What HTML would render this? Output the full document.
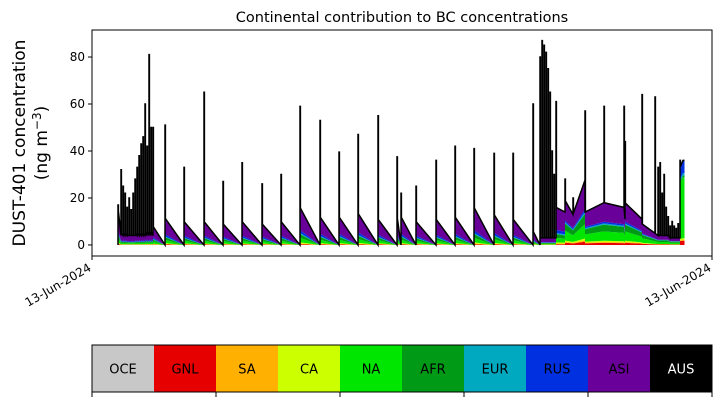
<!DOCTYPE html>
<html><head><meta charset="utf-8"><style>
html,body{margin:0;padding:0;background:#fff;}
svg{display:block;font-family:"DejaVu Sans","Liberation Sans",sans-serif;}
</style></head><body>
<svg id="chart" width="721" height="402" viewBox="0 0 721 402">
<g id="plot"></g>
</svg>
<script>
// ---- data ----
const layerNames = ["OCE","GNL","SA","CA","NA","AFR","EUR","RUS","ASI","AUS"];
const layerColors = ["#c8c8c8","#e60000","#ffb000","#ccff00","#00e600","#009a16","#00a8c0","#0030e0","#6a009a","#000000"];
// composition fractions of the non-AUS stack (OCE..ASI)
const compEarly = [0,0.02,0.02,0.03,0.12,0.10,0.03,0.08,0.60];
const compLate  = [0,0.05,0.02,0.03,0.22,0.16,0.03,0.04,0.45];
const compEnd   = [0,0.05,0.01,0.02,0.72,0.02,0.03,0.15,0.00];
const comps = [compEarly, compLate, compEnd];
// tooth start times (time units), spike tops, stack top at start, stack at end, composition idx
const toothTime  = [26,29,31,33,35,37,39,41,43,45,47,49,51,53,55,57,59,61,73,92,112,131,150,170,189,208,228,247,266,286,305,309,324,344,363,382,402,421,441,448,450,452,454,456,458,460,462,464,473,481,493,512,532,533,550,563,566,568,570,572,574,576,578,580,582,584,586,588,591];
const spikeTop   = [17,32,25,22,16,20,15,22,28,33,38,43,46,60,42,81,50,50,51,33,65,27,35,26,30,59,53,39.5,47,55,37.5,22,25,36,42,41,39,39,60,80,87,85,82,75,65,40,30,61,28,20,57,59,59,44,64,63,33,35,22,30,16,12,8,10,8,7,9,36,36];
const stackTop   = [16,5,5,5,4,4,4,4,5,5,5,5,5,6,6,6,6,8,11.5,10,10,9,10,9,10,16,12,12,13.5,11,12.5,12,10,11,12,16,13,11,6,3,3,3,3,3,3,3,3,16,19,13,14,18,16,18,9,5,4,4,4,4,4,4,3,3,3,3,3,33,36];
const stackEnd   = [4,4,4,4,4,4,4,4,4,4,4,4,4,4,4,4,4,0,0,0,0,0,0,0,0,0,0,0,0,0,0,0,0,0,0,0,0,0,0,3,3,3,3,3,3,3,3,14,13,27.6,18,16,11,11,5,4,4,4,4,4,4,3,3,3,3,3,3,36,36];
const toothComp  = [0,0,0,0,0,0,0,0,0,0,0,0,0,0,0,0,0,0,0,0,0,0,0,0,0,0,0,0,0,0,0,0,0,0,0,0,0,0,0,0,0,0,0,0,0,0,0,0,1,1,1,1,1,1,1,1,1,1,1,1,1,1,1,1,1,1,1,2,2];
const yTicks = [0,20,40,60,80];
const cbTicks = [0,2,4,6,8,10];
// ---- axes ----
const X0=92,X1=712,Y0=30,Y1=256;
const tMin=0,tMax=620;
const yMin=-4.7,yMax=91.5;
const xs=t=>X0+(t-tMin)/(tMax-tMin)*(X1-X0);
const ys=v=>Y1-(v-yMin)/(yMax-yMin)*(Y1-Y0);
const NS="http://www.w3.org/2000/svg";
const svg=document.getElementById('chart');
const plot=document.getElementById('plot');
function mk(tag,attrs,parent){const e=document.createElementNS(NS,tag);for(const k in attrs)e.setAttribute(k,attrs[k]);(parent||svg).appendChild(e);return e;}
const pts=[];
function layersFor(total,ci,aus){const c=comps[ci];const arr=c.map(f=>f*total);arr.push(aus);return arr;}
const W=0.4;
for(let i=0;i<toothTime.length;i++){
  const s=toothTime[i];
  const n=i+1<toothTime.length?toothTime[i+1]:s+1.5;
  const ci=toothComp[i];
  const top=stackTop[i], end=stackEnd[i];
  const frac=Math.min(W/(n-s),1);
  const topW=top+(end-top)*frac;
  const prevEnd=i>0?stackEnd[i-1]:0;
  const prevCi=i>0?toothComp[i-1]:ci;
  pts.push({t:s,v:layersFor(prevEnd,prevCi,0)});
  pts.push({t:s,v:layersFor(top,ci,Math.max(spikeTop[i]-top,0))});
  pts.push({t:s+Math.min(W,n-s),v:layersFor(topW,ci,Math.max(spikeTop[i]-topW,0))});
  pts.push({t:s+Math.min(W,n-s),v:layersFor(topW,ci,0)});
  pts.push({t:n,v:layersFor(end,ci,0)});
}
const clip=mk('clipPath',{id:'pc'});mk('rect',{x:X0,y:Y0,width:X1-X0,height:Y1-Y0},clip);
const areaG=mk('g',{'clip-path':'url(#pc)'},plot);


const cum=pts.map(p=>{let c=[0];for(let k=0;k<10;k++)c.push(c[k]+p.v[k]);return c;});
for(let k=0;k<10;k++){
  let d='';
  pts.forEach((p,j)=>{d+=(j?'L':'M')+xs(p.t).toFixed(2)+','+ys(cum[j][k+1]).toFixed(2);});
  for(let j=pts.length-1;j>=0;j--)d+='L'+xs(pts[j].t).toFixed(2)+','+ys(cum[j][k]).toFixed(2);
  d+='Z';
  const a=mk('path',{d:d,fill:layerColors[k],stroke:k==9?'#000':'none','stroke-width':k==9?1.5:0,'stroke-linejoin':'miter'},areaG);
  
  
}
const fr=mk('rect',{x:X0,y:Y0,width:X1-X0,height:Y1-Y0,fill:'none',stroke:'#000','stroke-width':1});

yTicks.forEach(v=>{
  const y=ys(v);
  const tk=mk('line',{x1:X0-4,x2:X0,y1:y,y2:y,stroke:'#000'});
  
  const tx=mk('text',{x:X0-7,y:y+4,'text-anchor':'end','font-size':12,fill:'#000'});tx.textContent=v;
  
});
[[X0],[X1]].forEach(([x])=>{
  const tk=mk('line',{x1:x,x2:x,y1:Y1,y2:Y1+4,stroke:'#000'});
  
  const tx=mk('text',{x:x,y:Y1+14,'text-anchor':'end','font-size':12,transform:`rotate(-30 ${x} ${Y1+14})`});tx.textContent='13-Jun-2024';
  
});
const ti=mk('text',{x:402,y:22,'text-anchor':'middle','font-size':14.5});ti.textContent='Continental contribution to BC concentrations';

const yl=mk('text',{transform:'translate(25 143) rotate(-90)','text-anchor':'middle','font-size':17});

const t1=mk('tspan',{x:0,y:0},yl);t1.textContent='DUST-401 concentration';
const t2=mk('tspan',{x:0,y:22},yl);t2.textContent='(ng m';
const t3=mk('tspan',{dy:-6,'font-size':12},yl);t3.textContent='−3';
const t4=mk('tspan',{dy:6},yl);t4.textContent=')';
const CB0=92,CB1=712,CBY=345,CBH=47;const cw=(CB1-CB0)/10;
layerNames.forEach((nm,k)=>{
  const r=mk('rect',{x:CB0+k*cw,y:CBY,width:cw+0.5,height:CBH,fill:layerColors[k]});
  
  const tx=mk('text',{x:CB0+k*cw+cw/2,y:CBY+CBH/2+5,'text-anchor':'middle','font-size':13,fill:k==9?'#fff':'#000'});tx.textContent=nm;
  
});
const cbf=mk('rect',{x:CB0,y:CBY,width:CB1-CB0,height:CBH,fill:'none',stroke:'#000'});

cbTicks.forEach(c=>{
  const x=CB0+c*cw;
  const tk=mk('line',{x1:x,x2:x,y1:CBY+CBH,y2:CBY+CBH+5,stroke:'#000'});
  
});
</script>
</body></html>
